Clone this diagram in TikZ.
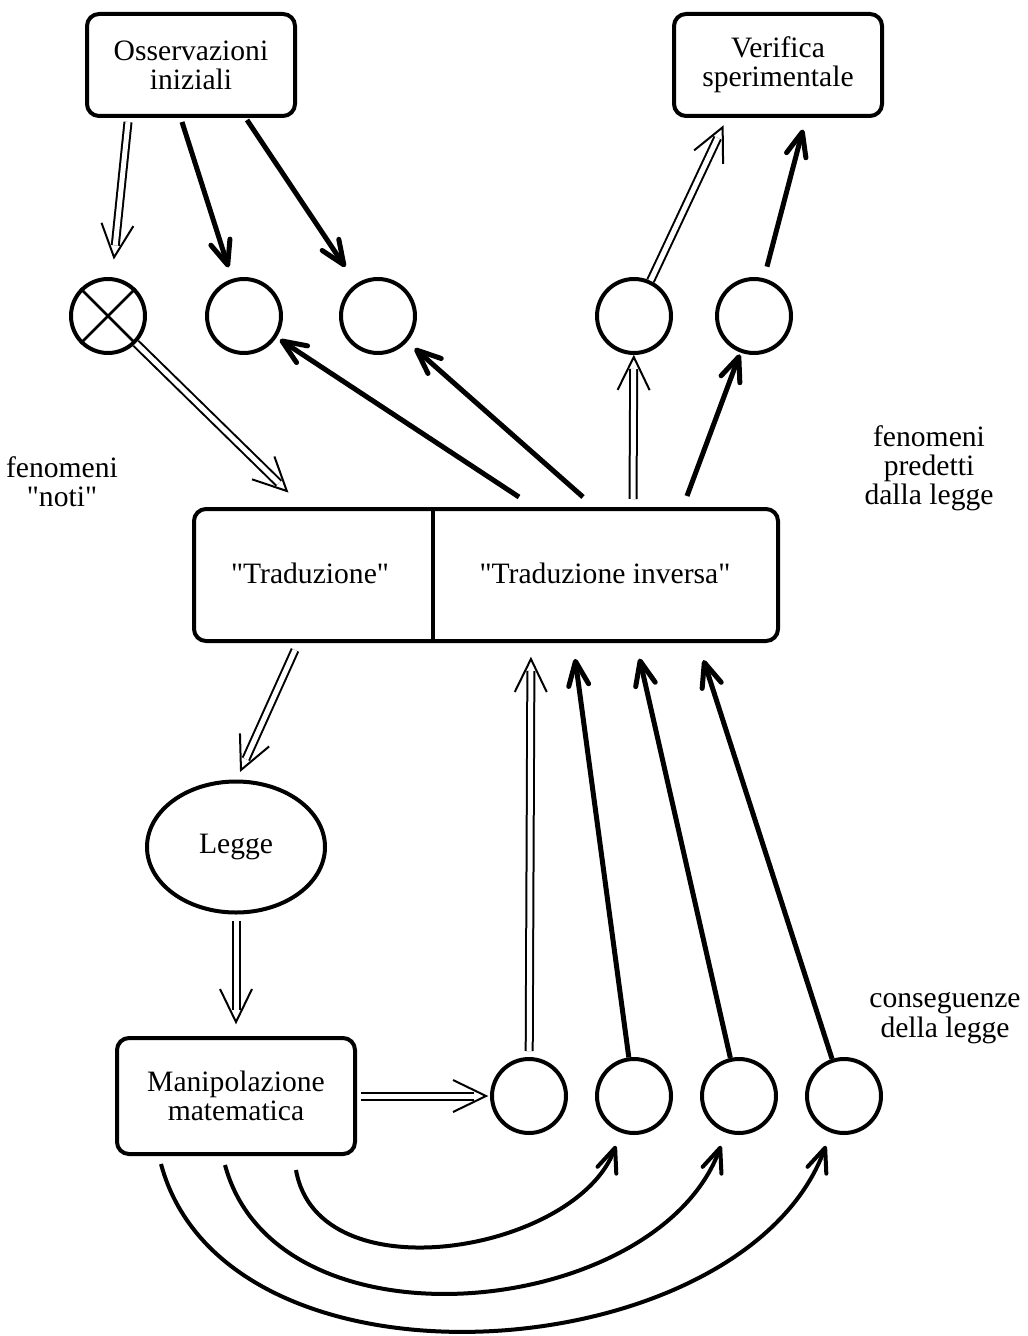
\documentclass[tikz,border=0pt]{standalone}
\usepackage{fontspec}
\setmainfont{Liberation Serif}
\usetikzlibrary{arrows.meta,shapes.geometric,decorations.markings}

\begin{document}
\begin{tikzpicture}[x=0.5pt,y=-0.5pt,>={Straight Barb[length=12pt,width=10pt,round]},
                    font=\fontsize{14.8}{14.6}\selectfont,
                    box node/.style={draw,rounded corners=6pt,line width=2pt,minimum width=104pt,minimum height=51pt,align=center},
                    circ node/.style={circle,draw,line width=2pt,minimum size=37pt,inner sep=0pt},
                    label node/.style={align=center},
                    thick arrow/.style={->,line width=2.5pt},
                    arc arrow/.style={->,line width=2pt},
                    double arrow/.style={line width=1pt,double,double distance=2.5pt,shorten >=#1+6pt,
                      postaction={decorate,decoration={markings,mark=at position -#1 with
                        {\draw[line width=1pt,shorten >=0pt,shorten <=0pt] (-16.5pt,8pt) -- (0pt,0pt) -- (-16.5pt,-8pt);}}}},
                    double arrow/.default=0.5pt]
  \useasboundingbox (0,0) rectangle (1027,1336);
  \node[box node] (obs) at (191,65) {Osservazioni\\iniziali};
  \node[box node] (ver) at (778,65) {Verifica\\sperimentale};
  \node[circ node] (c1) at (108,316) {};
  \node[circ node] (c2) at (244,316) {};
  \node[circ node] (c3) at (378,316) {};
  \node[circ node] (c4) at (634,316) {};
  \node[circ node] (c5) at (754,316) {};
  \draw[line width=1.3pt] (c1.north west) -- (c1.south east) (c1.north east) -- (c1.south west);
  \node[box node,minimum width=292pt,minimum height=66pt] (trans) at (486,575) {};
  \node (trad) at (310,573) {\textquotedbl Traduzione\textquotedbl};
  \node (inv) at (605,573) {\textquotedbl Traduzione inversa\textquotedbl};
  \coordinate (mid) at (433,575);
  \draw[line width=2pt] (mid |- trans.north) -- (mid |- trans.south);
  \node[draw,ellipse,line width=2pt,minimum width=89pt,minimum height=65.5pt] (legge) at (236,847) {Legge};
  \node[box node,minimum width=119pt,minimum height=58pt] (manip) at (236,1096) {Manipolazione\\matematica};
  \node[circ node] (b1) at (529,1096) {};
  \node[circ node] (b2) at (634,1096) {};
  \node[circ node] (b3) at (739,1096) {};
  \node[circ node] (b4) at (844,1096) {};
  \node[label node] (noti) at (62,482) {fenomeni\\\textquotedbl noti\textquotedbl};
  \node[label node] (pred) at (929,468) {fenomeni\\predetti\\dalla legge};
  \node[label node] (cons) at (945,1018) {conseguenze\\della legge};

  \coordinate (o1) at (128,122);
  \coordinate (o2) at (182,122);
  \coordinate (o3) at (247,120);
  \coordinate (tin) at (296,500);
  \coordinate (t2) at (519,497);
  \coordinate (t3) at (583,497);
  \coordinate (t4) at (633,499);
  \coordinate (t5) at (687,496);
  \coordinate (v1) at (727,118);
  \coordinate (v2) at (806,118);
  \coordinate (tout) at (295,650);
  \coordinate (lin) at (236,781);
  \coordinate (u1) at (531,643);
  \coordinate (u2) at (573,643);
  \coordinate (u3) at (636,643);
  \coordinate (u4) at (698,643);
  \coordinate (m1) at (296,1170);
  \coordinate (m2) at (225,1165);
  \coordinate (m3) at (161,1164);

  \path
    (o1) edge[double arrow=10pt] (c1)
    (o2) edge[thick arrow,shorten >=6pt] (c2)
    (o3) edge[thick arrow,shorten >=10pt] (c3)
    (c1) edge[double arrow=6pt] (tin)
    (t2) edge[thick arrow,shorten >=2pt] (c2)
    (t3) edge[thick arrow,shorten >=5pt] (c3)
    (t4) edge[double arrow=1pt] (c4)
    (t5) edge[thick arrow,shorten >=1pt] (c5)
    (c4) edge[double arrow=5pt] (v1)
    (c5) edge[thick arrow,shorten <=6pt,shorten >=6pt] (v2)
    (tout) edge[double arrow=6pt] (lin)
    (legge) edge[double arrow=7pt,shorten <=3pt] (manip)
    (manip) edge[double arrow=2pt,shorten <=2pt] (b1)
    (b1) edge[double arrow=8pt,shorten <=3pt] (u1)
    (b2) edge[thick arrow,shorten >=8pt] (u2)
    (b3) edge[thick arrow,shorten >=8pt] (u3)
    (b4) edge[thick arrow,shorten >=9pt] (u4);
  \draw[arc arrow,shorten >=7pt] (m1) .. controls (318,1297) and (577,1252) .. (b2);
  \draw[arc arrow,shorten >=7pt] (m2) .. controls (277,1358) and (658,1319) .. (b3);
  \draw[arc arrow,shorten >=7pt] (m3) .. controls (227,1409) and (744,1370) .. (b4);
\end{tikzpicture}
\end{document}
